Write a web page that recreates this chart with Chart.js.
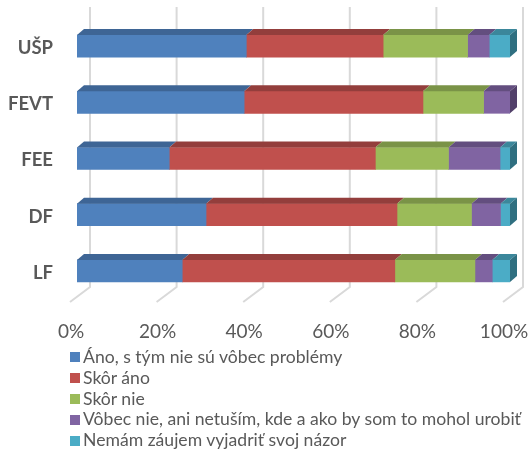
<!DOCTYPE html>
<html>
<head>
<meta charset="utf-8">
<script src="https://cdn.jsdelivr.net/npm/chart.js@4/dist/chart.umd.min.js"></script>
<style>
  html, body { margin: 0; padding: 0; background: #fff; }
  #wrap { position: relative; width: 529px; height: 450px; }
  canvas { display: block; }
  #legend { position: absolute; left: 70px; top: 347px; font-family: Lato, "Open Sans", sans-serif; font-size: 17.6px; color: #595959; }
  .li { height: 20.8px; line-height: 20.8px; display: flex; align-items: center; white-space: nowrap; }
  .sw { width: 10px; height: 10px; margin-right: 3px; display: inline-block; flex: none; }
</style>
</head>
<body>
<div id="wrap">
  <canvas id="c" width="529" height="450"></canvas>
  <div id="legend"></div>
</div>
<script>
const categories = ["UŠP", "FEVT", "FEE", "DF", "LF"];
const seriesNames = [
  "Áno, s tým nie sú vôbec problémy",
  "Skôr áno",
  "Skôr nie",
  "Vôbec nie, ani netuším, kde a ako by som to mohol urobiť",
  "Nemám záujem vyjadriť svoj názor"
];
const anoNoProblem = [39.1, 38.6, 21.3, 29.8, 24.3];
const skorAno      = [31.6, 41.3, 47.6, 44.1, 49.1];
const skorNie      = [19.5, 14.0, 16.9, 17.2, 18.5];
const vobecNie     = [5.0, 6.1, 11.9, 6.7, 4.0];
const nemamZaujem  = [4.8, 0.0, 2.3, 2.2, 4.1];
const xTicks = [0, 20, 40, 60, 80, 100];

const frontColors = ["#4F81BD", "#C0504D", "#9BBB59", "#8064A2", "#4BACC6"];
const topColors   = ["#3E6595", "#933E3C", "#7A9347", "#634E7F", "#3B879B"];
const sideColors  = ["#335380", "#7D3331", "#657A3A", "#52406A", "#2F6F80"];

const seriesValues = [anoNoProblem, skorAno, skorNie, vobecNie, nemamZaujem];

const DX = 7, DY = 6;

const threeD = {
  id: "threeD",
  beforeDatasetsDraw(chart) {
    const ctx = chart.ctx;
    const xs = chart.scales.x;
    const area = chart.chartArea;
    ctx.save();
    ctx.strokeStyle = "#D9D9D9";
    ctx.lineWidth = 2;
    xTicks.forEach(v => {
      const p = xs.getPixelForValue(v);
      ctx.beginPath();
      ctx.moveTo(p + 13, area.top - 11);
      ctx.lineTo(p + 13, area.bottom - 12);
      ctx.lineTo(p - 7, area.bottom + 3);
      ctx.stroke();
    });
    ctx.restore();
  },
  afterDatasetsDraw(chart) {
    const ctx = chart.ctx;
    ctx.save();
    const n = chart.data.labels.length;
    for (let i = 0; i < n; i++) {
      let lastEl = null, lastDs = -1;
      chart.data.datasets.forEach((ds, d) => {
        const el = chart.getDatasetMeta(d).data[i];
        if (!el || ds.data[i] <= 0) return;
        const top = el.y - el.height / 2;
        const x0 = Math.min(el.base, el.x), x1 = Math.max(el.base, el.x);
        ctx.fillStyle = topColors[d];
        ctx.beginPath();
        ctx.moveTo(x0, top);
        ctx.lineTo(x0 + DX, top - DY);
        ctx.lineTo(x1 + DX, top - DY);
        ctx.lineTo(x1, top);
        ctx.closePath();
        ctx.fill();
        lastEl = el; lastDs = d;
      });
      if (lastEl) {
        const top = lastEl.y - lastEl.height / 2;
        const bot = lastEl.y + lastEl.height / 2;
        const x1 = Math.max(lastEl.base, lastEl.x);
        ctx.fillStyle = sideColors[lastDs];
        ctx.beginPath();
        ctx.moveTo(x1, top);
        ctx.lineTo(x1 + DX, top - DY);
        ctx.lineTo(x1 + DX, bot - DY);
        ctx.lineTo(x1, bot);
        ctx.closePath();
        ctx.fill();
      }
    }
    ctx.restore();
  }
};

const datasets = seriesNames.map((name, d) => ({
  label: name,
  data: seriesValues[d],
  backgroundColor: frontColors[d],
  borderWidth: 0,
  barThickness: 22
}));

new Chart(document.getElementById("c"), {
  type: "bar",
  data: { labels: categories, datasets },
  options: {
    indexAxis: "y",
    responsive: false,
    animation: false,
    devicePixelRatio: 1,
    layout: { padding: { top: 18, right: 19, bottom: 110, left: 0 } },
    plugins: { legend: { display: false }, tooltip: { enabled: false } },
    scales: {
      x: {
        stacked: true, min: 0, max: 100,
        grid: { display: false, drawTicks: false },
        border: { display: false },
        afterBuildTicks: s => { s.ticks = xTicks.map(v => ({ value: v })); },
        afterFit: s => { s.height = 41; s.paddingLeft = 0; s.paddingRight = 0; },
        ticks: {
          padding: 21, labelOffset: -6, maxRotation: 0, autoSkip: false,
          color: "#595959",
          font: { family: "Lato", size: 19 },
          callback: v => v + "%"
        }
      },
      y: {
        stacked: true,
        grid: { display: false, drawTicks: false },
        border: { display: false },
        afterFit: s => { s.width = 77; s.paddingTop = 0; s.paddingBottom = 0; },
        ticks: {
          padding: 24, labelOffset: 2, color: "#595959",
          font: { family: "Lato", size: 18.5, weight: "bold" }
        }
      }
    }
  },
  plugins: [threeD]
});

const leg = document.getElementById("legend");
seriesNames.forEach((name, d) => {
  const row = document.createElement("div");
  row.className = "li";
  const sw = document.createElement("span");
  sw.className = "sw";
  sw.style.background = frontColors[d];
  row.appendChild(sw);
  row.appendChild(document.createTextNode(name));
  leg.appendChild(row);
});
</script>
</body>
</html>
